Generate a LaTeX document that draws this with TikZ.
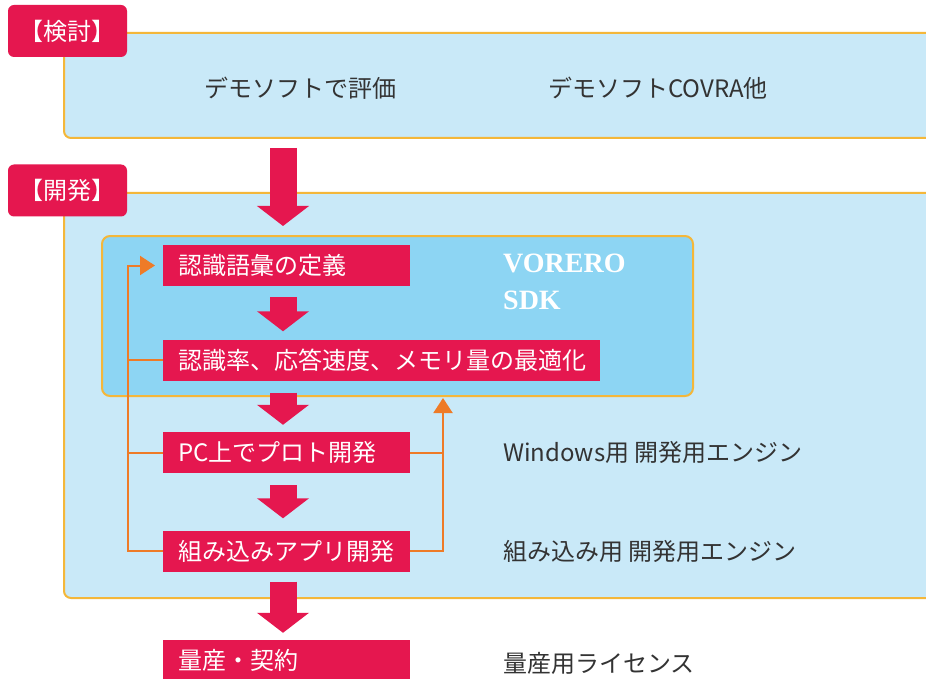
\documentclass[tikz,border=0pt]{standalone}
\usepackage{fontspec}
\setmainfont{Noto Sans CJK JP}
\newfontfamily\sdkfont{Liberation Serif}
\usetikzlibrary{arrows.meta}

\definecolor{kred}{HTML}{E5174F}
\definecolor{pale}{HTML}{C9E9F8}
\definecolor{sky}{HTML}{8DD5F3}
\definecolor{gold}{HTML}{F4B73A}
\definecolor{fbline}{HTML}{EE7B27}
\definecolor{ink}{HTML}{333333}

\tikzset{
    stage/.style = {draw=gold, line width=2pt, fill=pale, rounded corners=7pt, anchor=north west, inner sep=0pt},
    tab/.style = {fill=kred, rounded corners=6pt, text=white, font=\fontsize{24}{28}\selectfont, minimum width=119pt, minimum height=52pt, inner sep=0pt},
    task/.style = {fill=kred, text=white, anchor=west, align=left, inner xsep=15pt, inner ysep=0pt, minimum height=41pt, font=\fontsize{24}{28}\selectfont},
    note/.style = {text=ink, anchor=west, inner sep=0pt, font=\fontsize{24}{28}\selectfont},
    flow/.style = {kred, line width=27pt, -{Triangle[length=20pt,width=51pt]}},
    fb/.style = {fbline, line width=2pt}
}

\begin{document}
\begin{tikzpicture}[x=1pt, y=-1pt]
            \useasboundingbox (0,0) rectangle (926,679);
            \clip (0,0) rectangle (926,679);
            \fill[white] (0,0) rectangle (926,679);

            % Stages
            \node[stage, minimum width=880pt, minimum height=105pt] (kentou) at (63,32) {};
            \node[stage, minimum width=880pt, minimum height=405pt] (kaihatsu) at (63,192) {};
            \node[stage, fill=sky, rounded corners=8pt, minimum width=591pt, minimum height=160pt] (sdk) at (101,235) {};
            \node[tab] (tab1) at (67.5,31) {【検討】};
            \node[tab] (tab2) at (67.5,190.5) {【開発】};

            % Texts
            \node[note, anchor=center] (demo1) at (300,88) {デモソフトで評価};
            \node[note, anchor=center] (demo2) at (658,88) {デモソフトCOVRA他};
            \node[text=white, anchor=west, align=left, inner sep=0pt, font=\sdkfont\bfseries\fontsize{28}{37}\selectfont] (vorero) at (503,282) {VORERO\\SDK};

            % Steps
            \node[task, text width=217pt] (n1) at (163,265.5) {認識語彙の定義};
            \node[task, text width=407pt] (n2) at (163,360) {認識率、応答速度、メモリ量の最適化};
            \node[task, text width=217pt] (n3) at (163,452.5) {PC上でプロト開発};
            \node[task, text width=217pt] (n4) at (163,551) {組み込みアプリ開発};
            \node[task, text width=217pt] (n5) at (163,660.5) {量産・契約};

            \node[note] (eng1) at (503,452.5) {Windows用 開発用エンジン};
            \node[note] (eng2) at (503,551) {組み込み用 開発用エンジン};
            \node[note] (lic) at (503,663) {量産用ライセンス};

            % Edges
            \coordinate (spine) at (283,0);
            \draw[flow, shorten <=9pt, shorten >=9pt] (spine |- kentou.south) -- (spine |- sdk.north);
            \draw[flow, shorten <=11pt, shorten >=8pt] (spine |- n1.south) -- (spine |- n2.north);
            \draw[flow, shorten <=12pt, shorten >=7pt] (spine |- n2.south) -- (spine |- n3.north);
            \draw[flow, shorten <=12pt, shorten >=12pt] (spine |- n3.south) -- (spine |- n4.north);
            \draw[flow, shorten <=10pt, shorten >=7pt] (spine |- n4.south) -- (spine |- n5.north);

            % Feedback
            \coordinate (lft) at (128,0);
            \coordinate (rgt) at (443,0);
            \draw[fb, -{Triangle[length=15pt,width=19pt]}, shorten >=8pt] (n4.west) -- (lft |- n4) -- (lft |- n1) -- (n1.west);
            \draw[fb] (n3.west) -- (lft |- n3);
            \draw[fb] (n2.west) -- (lft |- n2);
            \draw[fb, -{Triangle[length=15pt,width=19pt]}, shorten >=1pt] (n4.east) -- (rgt |- n4) -- (rgt |- sdk.south);
            \draw[fb] (n3.east) -- (rgt |- n3);
        \end{tikzpicture}
\end{document}
